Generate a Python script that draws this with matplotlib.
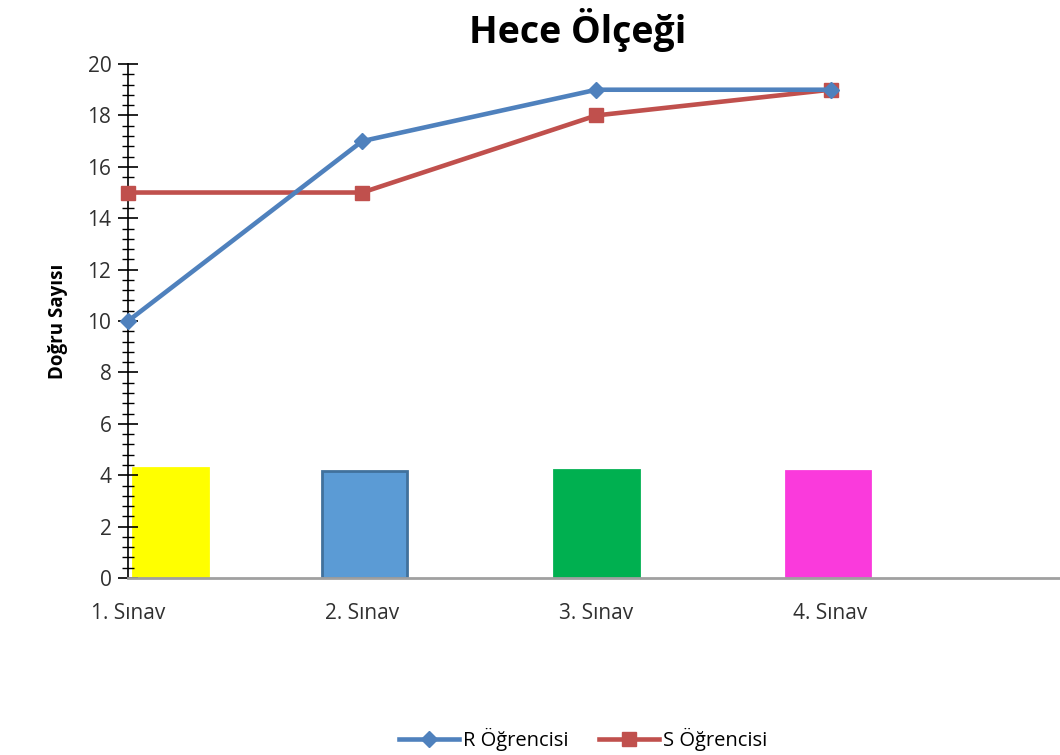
import matplotlib.pyplot as plt
from matplotlib.ticker import MultipleLocator

exams = ['1. Sınav', '2. Sınav', '3. Sınav', '4. Sınav']
r_scores = [10, 17, 19, 19]
s_scores = [15, 15, 18, 19]
bar_heights = [4.3, 4.15, 4.2, 4.15]
bar_colors = ['#FFFF00', '#5B9BD5', '#00B050', '#FA3ADC']
bar_edges = ['#FFFF00', '#41719C', '#00B050', '#FA3ADC']

plt.rcParams['font.family'] = ['Open Sans', 'DejaVu Sans']

fig = plt.figure(figsize=(10.6, 7.55), dpi=100)
ax = fig.add_axes([0.1208, 0.2344, 0.8792, 0.6808])

x = list(range(len(exams)))
# first bar sits right of the axis, the rest centred on their category
bar_x = [0.18, 1.01, 2.0, 2.99]
bar_w = [0.32, 0.36, 0.36, 0.36]
ax.bar(bar_x, bar_heights, width=bar_w, color=bar_colors,
       edgecolor=bar_edges, linewidth=2, zorder=1)

ax.plot(x, r_scores, color='#4F81BD', lw=3.3, marker='D', ms=8,
        label='R Öğrencisi', zorder=4, clip_on=False)
ax.plot(x, s_scores, color='#C0504D', lw=3.3, marker='s', ms=10,
        label='S Öğrencisi', zorder=3, clip_on=False)

ax.set_xlim(0, 3.98)
ax.set_ylim(0, 20)
ax.set_xticks(x)
ax.set_xticklabels(exams, fontsize=15, color='#303030')
ax.tick_params(axis='x', length=0, pad=18)
ax.yaxis.set_major_locator(MultipleLocator(2))
ax.yaxis.set_minor_locator(MultipleLocator(0.4))
ax.tick_params(axis='y', which='major', direction='inout', length=14,
               width=1.2, labelsize=15, labelcolor='#303030', pad=5)
ax.tick_params(axis='y', which='minor', direction='inout', length=9, width=1)

for s in ['top', 'right']:
    ax.spines[s].set_visible(False)
ax.spines['left'].set_color('black')
ax.spines['left'].set_linewidth(1.2)
ax.spines['bottom'].set_color('#A0A0A0')
ax.spines['bottom'].set_linewidth(2)

ax.set_ylabel('Doğru Sayısı', fontsize=13.5, fontweight='bold', labelpad=14)
fig.text(0.545, 0.96, 'Hece Ölçeği', ha='center', va='center',
         fontsize=27, fontweight='bold')

fig.legend(loc='center', bbox_to_anchor=(0.55, 0.02), ncol=2, frameon=False,
           fontsize=14.5, handlelength=3, columnspacing=1.5, handletextpad=0.2)

fig.savefig('out.png', dpi=100)
